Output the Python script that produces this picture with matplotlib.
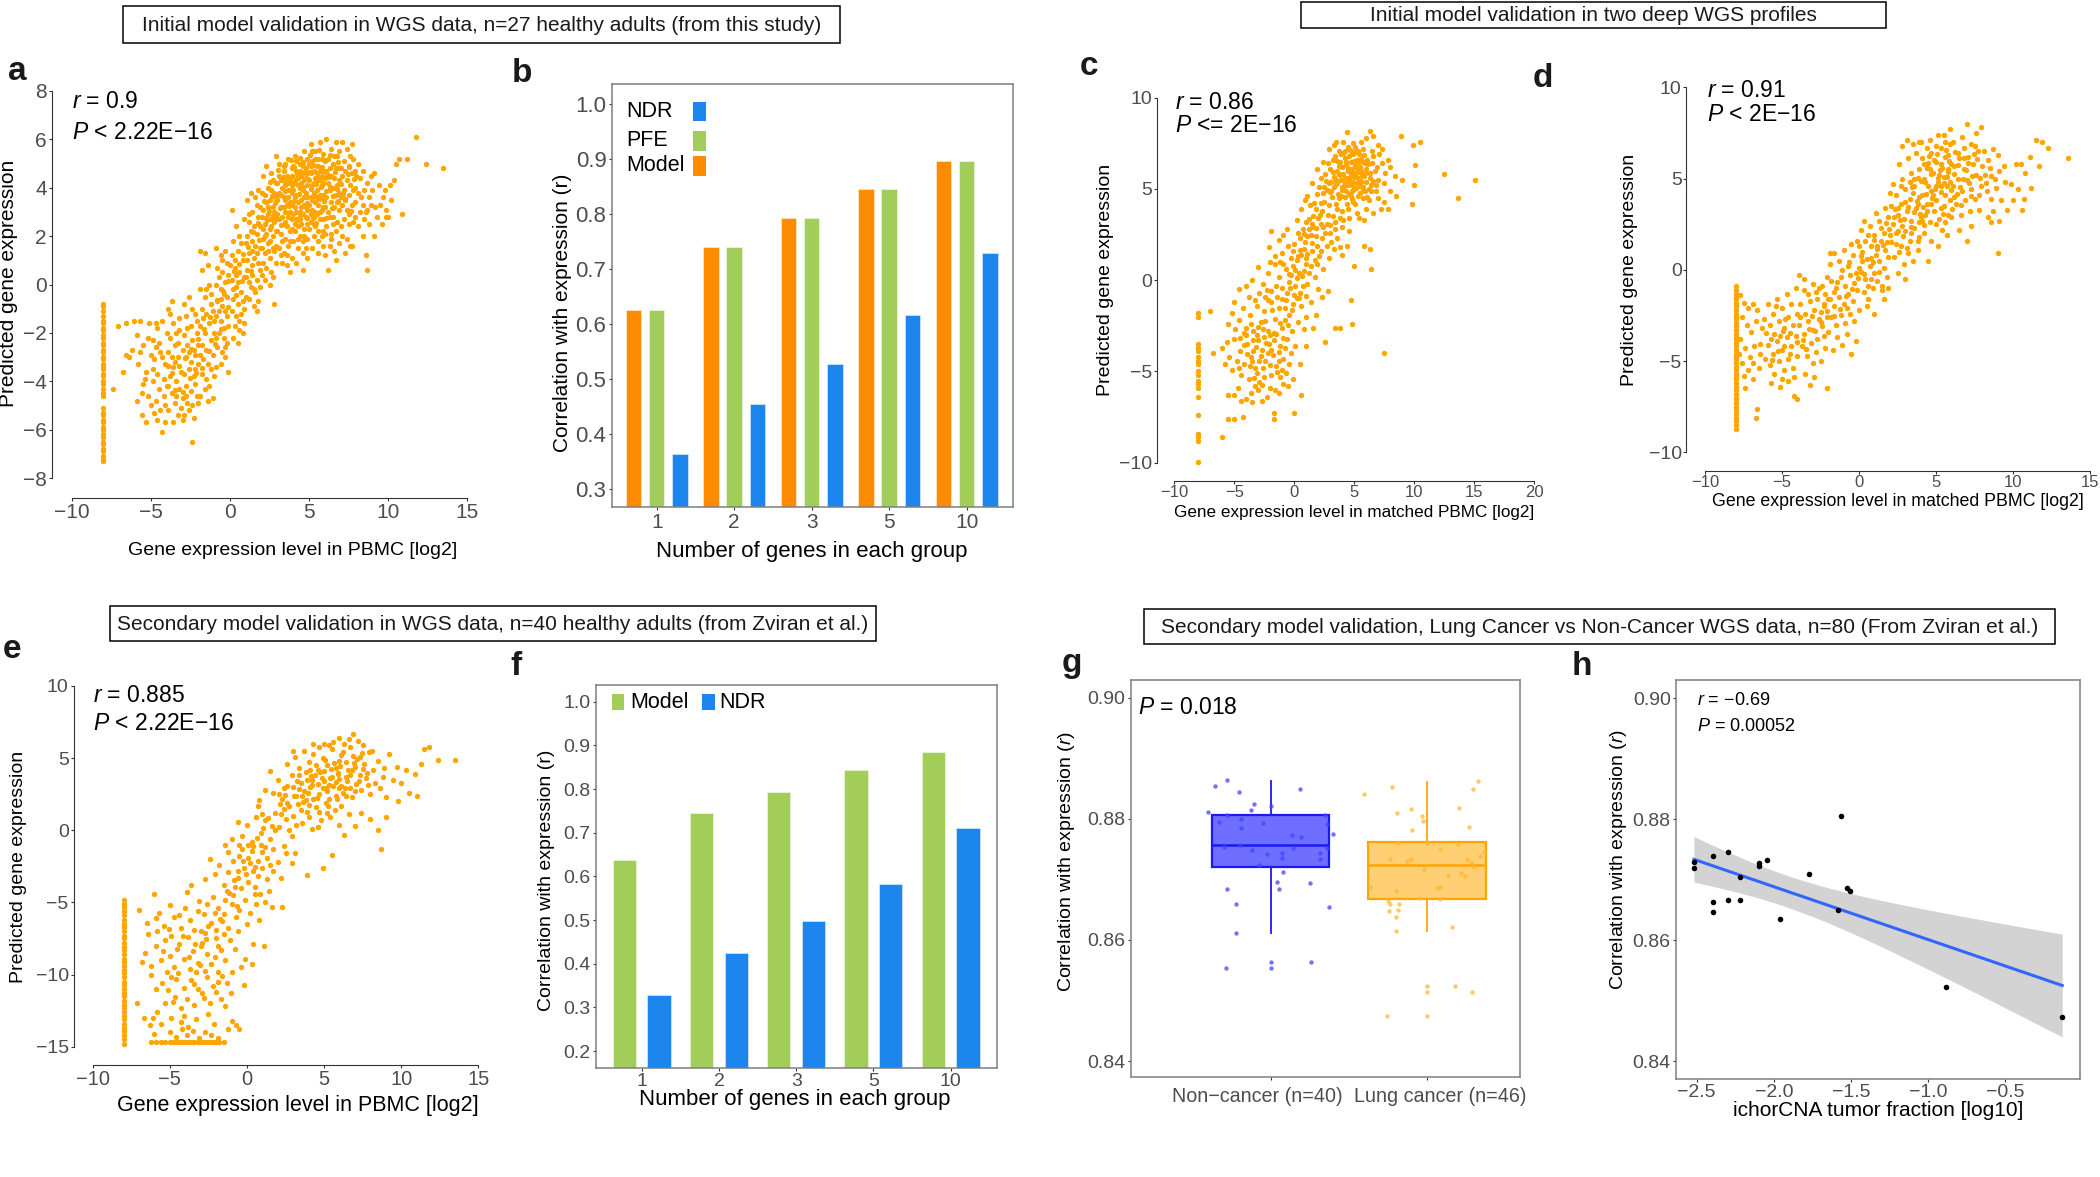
import numpy as np
import matplotlib
matplotlib.use('Agg')
import matplotlib.pyplot as plt
from matplotlib.patches import Rectangle

plt.rcParams['font.family'] = ['Liberation Sans', 'DejaVu Sans']
plt.rcParams['mathtext.fontset'] = 'custom'
plt.rcParams['mathtext.rm'] = 'Liberation Sans'
plt.rcParams['mathtext.it'] = 'Liberation Sans:italic'

# ---------------- data ----------------
# panel a: predicted vs PBMC expression (n=27 healthy adults)
a_strip_x = -8.04
a_strip_y = [-0.8, -0.9, -1.1, -1.3, -1.5, -1.6, -1.8, -1.9, -2.1, -2.2, -2.4, -2.5, -2.7, -2.8,
             -3.0, -3.1, -3.3, -3.4, -3.5, -3.7, -3.8, -4.0, -4.1, -4.3, -4.5, -4.6, -5.1, -5.3,
             -5.4, -5.6, -5.7, -5.9, -6.0, -6.2, -6.3, -6.5, -6.6, -6.8, -6.9, -7.1, -7.2, -7.3]
a_pts = [
    (-7.1, -1.7), (-6.6, -1.6), (-6.8, -3.6), (-6.4, -3.0), (-6.2, -2.7), (-7.4, -4.3), (-6.1, -1.5), (-6.6, -2.9),
    (-5.9, -2.1), (-5.7, -1.5), (-5.5, -2.5), (-5.8, -3.3), (-5.3, -3.6), (-5.9, -4.8), (-5.6, -5.4), (-5.3, -5.7),
    (-5.2, -4.6), (-5.5, -4.1), (-5.0, -2.9), (-5.1, -1.6), (-5.4, -3.9), (-5.7, -2.8), (-5.2, -2.2), (-5.0, -5.0),
    (-5.6, -4.5),
    (-4.9, -2.3), (-4.7, -2.6), (-4.8, -3.1), (-4.6, -3.7), (-4.5, -4.3), (-4.9, -4.0), (-4.7, -4.8), (-4.4, -5.2),
    (-4.6, -5.6), (-4.3, -6.1), (-4.2, -4.6), (-4.1, -3.3), (-4.4, -2.8), (-4.0, -2.0), (-4.3, -1.5), (-4.6, -1.8),
    (-4.8, -5.3), (-4.1, -5.0), (-4.5, -2.4), (-4.2, -3.9), (-4.9, -3.5), (-4.0, -4.2), (-4.7, -1.6), (-4.3, -3.0),
    (-4.1, -5.7),
    (-3.9, -1.0), (-3.7, -0.7), (-3.6, -1.6), (-3.8, -2.2), (-3.5, -2.5), (-3.9, -2.8), (-3.3, -3.0), (-3.6, -3.4),
    (-3.8, -3.8), (-3.4, -4.0), (-3.2, -4.3), (-3.7, -4.5), (-3.5, -4.9), (-3.9, -5.2), (-3.3, -5.4), (-3.6, -5.7),
    (-3.0, -5.6), (-3.1, -3.6), (-3.4, -2.0), (-3.0, -2.7), (-3.2, -1.4), (-3.8, -1.2), (-3.0, -4.7), (-3.5, -3.2),
    (-3.9, -4.2), (-3.3, -2.4), (-3.1, -5.1), (-3.7, -3.0), (-3.4, -4.6), (-3.2, -1.9),
    (-2.9, -0.8), (-2.6, -0.5), (-2.8, -1.3), (-2.5, -1.7), (-2.2, -1.2), (-2.9, -2.1), (-2.7, -2.5), (-2.4, -2.3),
    (-2.1, -2.0), (-2.8, -3.0), (-2.5, -3.2), (-2.2, -2.9), (-2.9, -3.7), (-2.6, -3.5), (-2.3, -3.8), (-2.0, -3.3),
    (-2.8, -4.2), (-2.5, -4.4), (-2.2, -4.1), (-2.7, -4.9), (-2.4, -5.0), (-2.1, -4.6), (-2.9, -5.4), (-2.6, -5.2),
    (-2.3, -5.5), (-2.4, -6.5), (-2.0, -4.9), (-2.7, -1.8), (-2.1, -1.5), (-2.3, -2.7), (-2.6, -2.8), (-2.0, -2.5),
    (-2.4, -1.0), (-2.8, -4.6), (-2.2, -3.5),
    (-1.9, 1.4), (-1.6, 1.3), (-1.8, 0.6), (-1.4, 0.8), (-1.9, -0.2), (-1.6, -0.5), (-1.3, 0.0), (-1.8, -1.0),
    (-1.5, -1.2), (-1.2, -0.8), (-1.9, -1.7), (-1.6, -2.0), (-1.3, -1.6), (-1.1, -1.1), (-1.8, -2.5), (-1.5, -2.7),
    (-1.2, -2.3), (-1.0, -2.0), (-1.7, -3.1), (-1.4, -3.3), (-1.1, -2.9), (-1.8, -3.7), (-1.5, -3.9), (-1.2, -3.5),
    (-1.6, -4.3), (-1.3, -4.2), (-1.0, -3.8), (-1.9, -4.6), (-1.4, -4.8), (-1.1, -4.7), (-1.7, -1.4), (-1.2, -0.4),
    (-1.0, -1.5), (-1.5, -0.2), (-1.9, -2.9),
    (-0.9, 1.5), (-0.6, 1.2), (-0.3, 1.4), (-0.8, 0.7), (-0.5, 0.5), (-0.2, 0.9), (-0.9, 0.0), (-0.6, -0.2),
    (-0.3, 0.1), (-0.8, -0.7), (-0.5, -0.9), (-0.2, -0.5), (-0.9, -1.3), (-0.6, -1.5), (-0.3, -1.1), (-0.7, -2.0),
    (-0.4, -2.2), (-0.1, -1.7), (-0.8, -2.6), (-0.5, -2.8), (-0.2, -2.4), (-0.6, -3.3), (-0.3, -3.0), (-0.9, -3.4),
    (-0.1, -3.6), (-0.4, -1.8), (-0.7, 0.3), (-0.1, 0.4), (-0.4, -0.4), (-0.7, -1.1), (-0.2, -1.3), (-0.5, 1.0),
    (-0.9, -2.2), (-0.3, -2.6), (-0.6, -0.6),
    (0.1, 3.1), (0.4, 2.4), (0.2, 1.8), (0.6, 2.0), (0.9, 2.7), (0.1, 1.2), (0.5, 1.4), (0.8, 1.0), (0.3, 0.7),
    (0.6, 0.5), (0.9, 0.3), (0.1, 0.2), (0.4, -0.1), (0.7, -0.3), (0.2, -0.6), (0.5, -0.8), (0.8, -0.7), (0.1, -1.1),
    (0.4, -1.3), (0.7, -1.2), (0.3, -1.7), (0.6, -1.9), (0.9, -1.6), (0.2, -2.2), (0.5, -2.4), (0.8, -2.0),
    (1.0, -0.5), (0.3, 1.0), (0.7, 1.7), (0.0, 0.8), (0.5, 0.1), (0.9, -1.0), (0.2, -0.2), (0.6, -1.5), (0.4, 0.4),
    (1.1, 3.5), (1.4, 3.0), (1.7, 3.3), (1.2, 2.6), (1.5, 2.4), (1.8, 2.8), (1.1, 2.0), (1.4, 1.8), (1.7, 2.1),
    (1.9, 1.5), (1.2, 1.3), (1.5, 1.1), (1.8, 0.9), (1.1, 0.6), (1.4, 0.4), (1.7, 0.2), (1.3, -0.1), (1.6, -0.3),
    (1.9, -0.1), (1.2, -0.6), (1.5, -0.9), (1.8, -0.7), (1.0, 1.7), (1.3, 2.2), (1.6, 1.6), (1.9, 2.4), (1.1, 1.0),
    (1.4, 0.8), (1.7, 1.3), (1.2, 0.1), (1.9, 0.6), (1.6, 3.6), (1.3, 3.8), (1.8, 3.9), (1.5, -0.2), (1.0, 0.3),
    (1.7, -1.1), (1.4, 1.4), (1.9, 3.2), (1.2, 2.9),
    (2.1, 4.5), (2.4, 4.0), (2.7, 4.3), (2.9, 5.3), (2.2, 3.7), (2.5, 3.5), (2.8, 3.8), (2.1, 3.1), (2.4, 2.9),
    (2.7, 3.2), (2.9, 2.7), (2.2, 2.5), (2.5, 2.3), (2.8, 2.6), (2.1, 1.9), (2.4, 1.7), (2.7, 2.0), (2.9, 1.6),
    (2.2, 1.3), (2.5, 1.1), (2.8, 1.4), (2.3, 0.7), (2.6, 0.5), (2.9, 0.9), (2.2, 0.2), (2.5, 0.0), (2.8, -0.8),
    (2.0, 2.8), (2.3, 3.4), (2.6, 3.9), (2.9, 4.2), (2.0, 1.5), (2.3, 2.1), (2.6, 2.7), (2.9, 3.5), (2.1, 0.9),
    (2.4, 1.4), (2.7, 1.5), (2.0, 3.8), (2.6, 4.6), (2.4, 3.2), (2.8, 3.0), (2.2, 2.0), (2.5, 1.8), (2.7, 0.3),
    (2.0, 0.4), (2.9, 2.2), (2.3, 4.9), (2.6, 2.4), (2.1, 2.3),
    (3.1, 5.0), (3.4, 4.7), (3.7, 5.2), (3.9, 4.5), (3.2, 4.3), (3.5, 4.1), (3.8, 4.4), (3.1, 3.8), (3.4, 3.6),
    (3.7, 3.9), (3.9, 3.3), (3.2, 3.2), (3.5, 3.0), (3.8, 3.4), (3.1, 2.7), (3.4, 2.5), (3.7, 2.8), (3.9, 2.3),
    (3.2, 2.1), (3.5, 1.9), (3.8, 2.2), (3.1, 1.5), (3.4, 1.3), (3.7, 1.6), (3.9, 1.1), (3.3, 0.9), (3.6, 0.8),
    (3.8, 0.5), (3.0, 3.5), (3.3, 4.0), (3.6, 4.5), (3.9, 4.8), (3.0, 2.9), (3.3, 2.8), (3.6, 3.3), (3.9, 3.8),
    (3.0, 2.2), (3.3, 1.8), (3.6, 2.4), (3.9, 2.7), (3.2, 3.7), (3.5, 3.5), (3.8, 3.0), (3.1, 4.5), (3.4, 4.9),
    (3.7, 4.2), (3.5, 2.6), (3.2, 1.2), (3.8, 1.8), (3.6, 1.2), (3.0, 4.2), (3.5, 5.0), (3.9, 4.1), (3.4, 3.2),
    (3.7, 3.6),
    (4.1, 5.3), (4.4, 5.0), (4.7, 5.5), (4.9, 5.2), (4.2, 4.7), (4.5, 4.5), (4.8, 4.8), (4.1, 4.2), (4.4, 4.0),
    (4.7, 4.3), (4.9, 4.6), (4.2, 3.7), (4.5, 3.5), (4.8, 3.8), (4.1, 3.2), (4.4, 3.0), (4.7, 3.3), (4.9, 3.6),
    (4.2, 2.7), (4.5, 2.5), (4.8, 2.8), (4.1, 2.2), (4.4, 2.0), (4.7, 2.3), (4.9, 1.9), (4.3, 1.5), (4.6, 1.3),
    (4.9, 1.1), (4.2, 0.9), (4.6, 0.6), (4.0, 4.9), (4.3, 4.4), (4.6, 4.9), (4.9, 4.1), (4.0, 3.9), (4.3, 3.4),
    (4.6, 3.9), (4.9, 3.1), (4.0, 2.9), (4.3, 2.4), (4.6, 2.9), (4.9, 2.5), (4.0, 1.8), (4.3, 1.9), (4.6, 1.8),
    (4.8, 1.5), (4.1, 3.6), (4.4, 4.7), (4.7, 3.6), (4.5, 4.2), (4.2, 3.0), (4.8, 4.4), (4.4, 2.7), (4.7, 2.0),
    (4.1, 2.5), (4.5, 3.2), (4.8, 3.2), (4.3, 4.1), (4.6, 4.6), (4.2, 5.1),
    (5.1, 5.8), (5.4, 5.5), (5.7, 5.9), (5.9, 5.4), (5.2, 5.1), (5.5, 4.9), (5.8, 5.2), (5.1, 4.6), (5.4, 4.4),
    (5.7, 4.7), (5.9, 4.2), (5.2, 4.1), (5.5, 3.9), (5.8, 4.1), (5.1, 3.6), (5.4, 3.4), (5.7, 3.7), (5.9, 3.2),
    (5.2, 3.1), (5.5, 2.9), (5.8, 3.1), (5.1, 2.6), (5.4, 2.4), (5.7, 2.7), (5.9, 2.2), (5.3, 2.0), (5.6, 1.8),
    (5.9, 1.6), (5.2, 1.5), (5.6, 1.3), (5.0, 5.0), (5.3, 4.7), (5.6, 5.2), (5.9, 4.7), (5.0, 4.3), (5.3, 3.8),
    (5.6, 4.3), (5.9, 3.7), (5.0, 3.3), (5.3, 2.8), (5.6, 3.3), (5.9, 2.7), (5.0, 2.3), (5.3, 2.5), (5.6, 2.2),
    (5.8, 2.0), (5.1, 4.9), (5.4, 5.2), (5.7, 4.3), (5.5, 4.6), (5.2, 3.5), (5.8, 4.5), (5.4, 3.0), (5.7, 3.0),
    (5.1, 2.9), (5.5, 3.6), (5.8, 3.6), (5.3, 4.2), (5.6, 4.9), (5.2, 5.5),
    (6.1, 6.0), (6.4, 5.6), (6.7, 5.9), (6.9, 5.5), (6.2, 5.2), (6.5, 5.0), (6.8, 5.3), (6.1, 4.7), (6.4, 4.5),
    (6.7, 4.8), (6.9, 4.3), (6.2, 4.2), (6.5, 4.0), (6.8, 4.1), (6.1, 3.6), (6.4, 3.4), (6.7, 3.7), (6.9, 3.1),
    (6.2, 3.0), (6.5, 2.8), (6.8, 2.6), (6.1, 2.4), (6.4, 2.1), (6.7, 2.2), (6.9, 1.7), (6.3, 1.6), (6.6, 1.4),
    (6.0, 1.2), (6.2, 0.6), (6.0, 5.1), (6.3, 4.8), (6.6, 5.3), (6.9, 4.8), (6.0, 4.4), (6.3, 3.9), (6.6, 4.4),
    (6.9, 3.8), (6.0, 3.2), (6.3, 2.8), (6.6, 3.2), (6.0, 2.1), (6.5, 2.5), (6.8, 3.4), (6.4, 1.9), (6.7, 1.0),
    (7.1, 5.9), (7.4, 5.6), (7.7, 5.8), (7.2, 5.1), (7.5, 4.9), (7.8, 5.2), (7.1, 4.5), (7.4, 4.3), (7.7, 4.6),
    (7.9, 4.0), (7.2, 3.9), (7.5, 3.7), (7.8, 3.9), (7.1, 3.3), (7.4, 3.1), (7.7, 3.3), (7.9, 2.8), (7.2, 2.7),
    (7.5, 2.5), (7.8, 2.6), (7.1, 2.0), (7.4, 1.9), (7.7, 1.6), (7.3, 1.3), (7.6, 1.6), (7.0, 4.8), (7.3, 4.7),
    (7.6, 5.3), (7.9, 4.7), (7.0, 3.6), (7.3, 3.5), (7.6, 4.1), (7.9, 3.4), (7.0, 2.4), (7.5, 2.9),
    (8.1, 5.0), (8.4, 4.7), (8.7, 4.2), (8.2, 4.4), (8.5, 3.9), (8.8, 3.6), (8.1, 3.8), (8.4, 3.3), (8.7, 3.1),
    (8.2, 3.0), (8.5, 2.7), (8.8, 2.5), (8.1, 2.4), (8.4, 2.0), (8.6, 1.2), (8.7, 0.6), (8.3, 3.6), (8.9, 4.5),
    (8.0, 4.5), (8.6, 3.0), (8.9, 3.3),
    (9.1, 4.6), (9.4, 4.1), (9.7, 3.6), (9.2, 3.2), (9.5, 3.3), (9.9, 3.1), (9.3, 2.8), (9.1, 2.0), (9.8, 3.9),
    (9.6, 2.5), (9.9, 2.8), (9.0, 3.9),
    (10.2, 3.5), (10.5, 5.0), (10.7, 5.2), (11.2, 5.2), (10.0, 2.8), (10.9, 2.9), (10.4, 4.3), (11.8, 6.1),
    (12.4, 5.0), (13.5, 4.8), (10.1, 4.1),
]
a_pts_dense = [
    (2.15, 3.45), (2.35, 2.65), (2.55, 4.25), (2.75, 2.85), (2.95, 3.65), (3.05, 4.75), (3.25, 2.45), (3.45, 3.85),
    (3.65, 2.95), (3.85, 4.25), (4.05, 3.45), (4.25, 4.55), (4.45, 2.85), (4.65, 4.05), (4.85, 3.35), (5.05, 4.65),
    (5.25, 2.75), (5.45, 4.15), (5.65, 3.55), (5.85, 4.85), (6.05, 3.85), (6.25, 4.45), (6.45, 3.15), (6.65, 4.65),
    (6.85, 3.45), (7.05, 4.15), (7.25, 3.55), (7.45, 4.55), (7.65, 3.05), (7.85, 4.35), (2.45, 3.05), (2.85, 3.35),
    (3.15, 3.15), (3.55, 4.35), (3.95, 3.95), (4.35, 3.75), (4.75, 4.65), (5.15, 3.95), (5.55, 4.45), (5.95, 3.45),
    (6.35, 4.05), (6.75, 3.95), (7.15, 3.75), (7.55, 4.85), (4.15, 4.35), (4.55, 3.95), (4.95, 4.35), (5.35, 3.65),
    (5.75, 4.05), (6.15, 4.55), (3.35, 4.45), (3.75, 3.25), (4.25, 2.65), (4.85, 2.75), (5.45, 2.55), (6.05, 2.75),
    (6.55, 3.65), (5.05, 5.35), (5.65, 5.55), (4.45, 5.25), (3.85, 5.15), (6.35, 5.35), (6.85, 5.05), (5.25, 4.95),
    (4.65, 5.05), (5.95, 5.15), (3.45, 4.25), (4.05, 4.85), (2.65, 3.65), (1.75, 2.55), (1.45, 2.15), (1.15, 1.55),
    (0.85, 1.25), (0.55, 0.85), (0.25, 0.55), (-0.15, 0.15), (-0.45, -0.25), (-0.85, -0.65), (-1.25, -1.35),
    (-1.65, -1.85), (-2.05, -2.25), (-2.45, -2.65), (-2.85, -3.05), (-3.25, -3.35), (-3.65, -3.65), (-3.95, -3.35),
    (-3.45, -4.35), (-2.95, -4.45), (-2.55, -3.85), (-2.15, -3.65), (-1.75, -3.45), (-1.35, -2.75), (-0.95, -2.45),
    (-0.55, -1.85), (-0.15, -0.95), (0.35, -0.45), (0.75, 0.15), (1.35, 0.55), (1.85, 1.85), (2.25, 2.75),
]

# panel b: correlation by number of genes per group
b_groups = ['1', '2', '3', '5', '10']
b_model = [0.626, 0.740, 0.794, 0.845, 0.897]
b_pfe = [0.626, 0.740, 0.794, 0.845, 0.897]
b_ndr = [0.364, 0.454, 0.528, 0.617, 0.730]

# panel c: deep WGS profile 1
c_strip_x = -8.0
c_strip_y = [-1.8, -2.0, -3.5, -3.7, -3.9, -4.2, -4.4, -4.6, -5.0, -5.2, -5.5, -5.7, -5.9, -6.4, -7.4,
             -8.4, -8.6, -8.8, -9.95]
c_pts = [
    (-7.0, -1.7), (-6.8, -4.0), (-6.0, -8.6), (-5.5, -7.6), (-5.0, -7.6), (-4.3, -7.5), (-1.7, -7.3), (-1.7, -7.6),
    (0.0, -7.3), (0.6, -6.3), (2.6, -3.4), (3.4, -2.6), (3.8, -2.6), (4.8, -2.4), (4.7, -1.1), (7.5, -4.0),
    (6.4, 0.6), (6.3, 1.7), (5.0, 0.8), (5.8, 1.9), (12.5, 5.8), (13.7, 4.5), (15.1, 5.5), (9.8, 4.2),
    (10.1, 6.3), (10.5, 7.6), (9.9, 7.4), (8.9, 7.9), (9.0, 5.5), (10.0, 5.2),
    (-5.5, -6.3), (-5.0, -6.3), (-4.7, -5.9), (-4.4, -6.6), (-4.0, -6.5), (-3.6, -6.2), (-3.3, -5.8), (-3.0, -6.0),
    (-2.7, -6.6), (-2.3, -6.4), (-2.0, -5.9), (-1.6, -6.0), (-1.3, -6.2), (-0.9, -5.7), (-0.5, -5.8), (-0.1, -5.4),
    (-4.4, -5.2), (-3.8, -5.4), (-3.1, -5.1), (-2.5, -5.3), (-1.9, -5.2), (-1.2, -5.3), (-0.7, -5.1), (-2.9, -5.6),
    (-3.5, -6.7),
    (-6.0, -3.7), (-5.6, -3.4), (-5.8, -4.6), (-5.2, -4.9), (-4.8, -4.4), (-4.5, -3.9), (-4.2, -4.6), (-3.9, -3.5),
    (-3.6, -4.2), (-3.3, -4.8), (-3.0, -3.3), (-2.7, -3.8), (-2.4, -4.4), (-2.1, -3.5), (-1.8, -4.1), (-1.5, -4.7),
    (-1.2, -3.6), (-0.9, -4.3), (-0.6, -3.2), (-0.3, -4.0), (0.1, -3.6), (0.5, -4.6), (1.0, -3.6), (-5.0, -3.2),
    (-4.0, -3.0), (-3.4, -3.9), (-2.9, -4.4), (-2.5, -3.1), (-2.2, -4.0), (-1.7, -3.3), (-1.3, -4.4), (-0.8, -3.7),
    (-0.4, -4.6), (-3.7, -4.7), (-4.6, -4.8), (-2.6, -4.8), (-1.0, -4.9), (-2.0, -3.0), (-3.1, -3.0), (-5.4, -4.2),
    (-5.5, -2.4), (-5.2, -1.8), (-4.9, -2.7), (-4.6, -2.2), (-4.3, -1.5), (-4.0, -2.6), (-3.7, -1.9), (-3.4, -2.8),
    (-3.1, -1.4), (-2.8, -2.3), (-2.5, -1.7), (-2.2, -2.8), (-1.9, -1.2), (-1.6, -2.1), (-1.3, -1.5), (-1.0, -2.6),
    (-0.7, -1.1), (-0.4, -1.9), (-0.1, -1.3), (0.3, -2.3), (0.6, -1.4), (1.0, -2.0), (1.4, -1.2), (1.8, -1.9),
    (-4.6, -0.5), (-3.8, -0.9), (-2.9, -0.7), (-3.6, -2.4), (-2.6, -2.7), (-1.7, -2.9), (-0.8, -2.2), (-0.2, -2.8),
    (0.4, -1.0), (-1.4, -0.9), (-2.2, -1.1), (-3.3, -1.1), (0.8, -2.7), (1.6, -2.6), (-4.2, -2.9), (-5.0, -1.2),
    (-4.0, -0.3), (-3.5, 0.0), (-3.0, 0.7), (-2.6, -0.2), (-2.2, 0.4), (-1.9, -0.6), (-1.6, 0.9), (-1.3, 0.2),
    (-1.0, -0.4), (-0.7, 0.6), (-0.4, -0.1), (-0.1, 0.8), (0.2, 0.1), (0.5, -0.7), (0.8, 0.5), (1.1, -0.2),
    (1.4, 0.8), (1.7, 0.2), (2.0, -0.5), (2.4, 0.6), (2.8, -0.6), (-2.0, 1.0), (-0.9, 0.9), (0.0, -0.8), (0.4, 0.4),
    (1.2, 0.4), (-1.5, -0.3), (-0.3, 0.3), (0.7, -0.3), (1.9, 0.9), (-2.4, -0.9), (2.3, -0.9), (0.1, -0.3),
    (-0.6, -0.7), (1.0, 0.9),
    (-2.1, 1.8), (-1.6, 1.3), (-1.3, 2.2), (-1.0, 1.5), (-0.6, 2.8), (-0.3, 1.2), (0.0, 2.0), (0.3, 2.6), (0.6, 1.4),
    (0.9, 2.1), (1.2, 2.8), (1.5, 1.6), (1.8, 2.4), (2.1, 1.3), (2.4, 2.9), (2.7, 1.9), (3.0, 2.6), (3.3, 1.7),
    (3.6, 2.3), (4.0, 1.4), (4.4, 1.9), (-0.9, 2.5), (-0.1, 1.6), (0.5, 2.3), (1.0, 1.2), (1.4, 2.5), (1.9, 1.9),
    (2.3, 2.3), (2.9, 1.2), (3.4, 2.8), (4.0, 2.9), (0.7, 2.8), (0.2, 1.1), (1.7, 1.1), (2.6, 2.6), (3.1, 2.1),
    (-1.9, 2.7), (-0.5, 1.9), (0.8, 1.7), (1.6, 2.9), (2.2, 1.6), (3.8, 1.8), (4.6, 2.7), (-1.2, 1.0), (1.1, 2.4),
    (0.2, 3.3), (0.6, 3.9), (1.0, 3.2), (1.3, 4.1), (1.6, 3.5), (1.9, 4.7), (2.2, 3.1), (2.5, 4.3), (2.8, 3.6),
    (3.1, 4.9), (3.4, 3.2), (3.7, 4.5), (4.0, 3.8), (4.3, 4.9), (4.6, 3.4), (4.9, 4.3), (5.2, 3.7), (5.5, 4.8),
    (5.8, 3.3), (6.2, 4.4), (6.6, 3.7), (7.0, 4.5), (7.5, 4.3), (8.0, 4.9), (8.5, 4.6), (1.1, 4.6), (1.8, 3.9),
    (2.4, 4.8), (2.0, 3.4), (2.9, 4.1), (3.2, 3.5), (3.5, 4.2), (3.9, 4.6), (4.1, 3.3), (4.4, 4.2), (4.8, 4.9),
    (5.1, 4.2), (5.4, 3.4), (5.7, 4.5), (6.0, 3.9), (6.4, 4.9), (7.2, 3.9), (2.7, 3.1), (3.6, 3.9), (4.5, 3.9),
    (5.3, 4.6), (6.8, 4.9), (0.9, 4.4), (1.5, 3.1), (2.3, 3.8), (3.0, 3.0), (3.8, 3.4), (4.7, 4.6), (5.9, 4.9),
    (7.8, 3.9),
    (1.5, 5.3), (1.9, 6.1), (2.2, 5.6), (2.5, 5.1), (2.8, 6.4), (3.1, 5.4), (3.4, 6.8), (3.7, 5.8), (4.0, 5.1),
    (4.3, 6.3), (4.6, 5.6), (4.9, 6.9), (5.2, 5.3), (5.5, 6.2), (5.8, 5.7), (6.1, 6.6), (6.4, 5.2), (6.7, 6.0),
    (7.0, 5.5), (7.3, 6.4), (7.6, 5.9), (8.0, 6.2), (8.4, 5.7), (3.3, 5.1), (3.6, 6.0), (3.9, 5.5), (4.2, 6.7),
    (4.5, 5.2), (4.8, 6.1), (5.1, 5.7), (5.4, 6.9), (5.7, 5.1), (6.0, 6.1), (6.3, 5.6), (6.6, 6.8), (2.6, 5.8),
    (3.0, 6.1), (4.1, 5.8), (4.4, 5.4), (4.7, 6.5), (5.0, 5.0), (5.3, 6.4), (5.6, 5.4), (5.9, 6.4), (6.2, 5.0),
    (2.1, 5.1), (3.5, 5.5), (4.0, 6.2), (4.5, 6.0), (5.0, 5.9), (5.5, 5.5), (6.8, 5.2), (7.8, 6.6), (2.9, 5.3),
    (3.8, 6.5), (4.6, 6.8), (5.2, 6.6), (5.7, 6.5), (6.5, 6.4), (7.1, 6.9), (3.2, 6.6), (4.3, 5.6), (4.9, 5.4),
    (5.1, 6.3), (5.6, 6.0), (6.0, 5.4), (3.6, 5.3), (4.2, 5.3), (4.7, 5.7), (4.8, 5.2), (5.3, 5.6), (3.9, 6.9),
    (2.4, 6.5), (6.9, 6.2), (7.5, 5.3),
    (2.9, 7.2), (3.3, 7.4), (3.7, 7.1), (4.1, 7.6), (4.5, 7.3), (4.9, 7.5), (5.3, 7.1), (5.7, 7.2), (6.0, 7.8),
    (6.3, 8.2), (6.6, 7.9), (7.0, 7.4), (4.4, 8.1), (3.5, 7.6), (4.8, 7.0), (5.6, 7.6), (5.1, 7.3), (4.2, 7.1),
    (6.5, 7.1), (7.3, 7.2),
]
c_pts_dense = [
    (2.65, 5.45), (2.95, 4.85), (3.25, 5.95), (3.45, 5.25), (3.75, 6.25), (3.95, 4.95), (4.15, 5.55), (4.35, 6.45),
    (4.55, 4.75), (4.75, 5.85), (4.95, 6.55), (5.15, 5.05), (5.35, 5.95), (5.55, 6.65), (5.75, 4.95), (5.95, 5.85),
    (6.15, 6.35), (4.05, 6.95), (4.65, 7.15), (5.05, 7.05), (3.55, 6.55), (4.25, 4.55), (4.85, 4.45), (5.45, 5.15),
    (3.15, 4.55), (3.85, 5.75), (4.45, 6.15), (5.25, 6.15), (5.85, 6.85), (6.35, 5.85), (2.25, 4.25), (2.75, 4.95),
    (3.35, 5.65), (3.65, 4.75), (4.15, 5.15), (4.55, 5.45), (4.95, 5.65), (5.65, 5.75), (6.05, 4.55), (6.55, 5.45),
    (1.25, 3.35), (1.65, 4.25), (0.85, 2.55), (0.45, 1.65), (0.05, 0.55), (-0.35, -0.45), (-0.75, -1.55),
    (-1.15, -2.35), (-1.55, -2.95), (-1.95, -3.85), (-2.35, -3.45), (-2.75, -4.15), (-3.15, -3.65), (-3.55, -4.45),
    (-3.95, -4.05), (-2.05, -4.65), (-1.45, -5.05), (-2.65, -5.75), (-3.35, -5.35), (-0.95, -3.15), (-0.55, -2.45),
    (-0.15, -1.65), (0.25, -0.95), (0.65, 0.25), (1.05, 1.45), (1.45, 2.05), (1.85, 2.85), (2.15, 3.55),
    (-1.85, -1.65), (-2.45, -2.25), (-3.05, -2.55), (-3.45, -3.25), (-4.15, -3.55), (-4.55, -3.15), (-1.05, -1.05),
    (-0.45, 0.35), (0.35, 1.35), (0.95, -0.85), (-2.25, -0.55), (-1.25, -3.95),
]

# panel d: deep WGS profile 2
d_strip_x = -8.0
d_strip_y = [-0.9, -1.1, -1.3, -1.5, -1.6, -1.8, -2.0, -2.2, -2.4, -2.6, -2.7, -2.9, -3.1, -3.3, -3.5,
             -3.7, -3.8, -4.0, -4.2, -4.4, -4.6, -4.8, -4.9, -5.1, -5.3, -5.5, -5.7, -5.9, -6.0, -6.2,
             -6.4, -6.6, -6.8, -7.0, -7.1, -7.3, -7.5, -7.7, -7.9, -8.1, -8.3, -8.5, -8.7]
d_pts = [
    (-7.7, -1.4), (-7.5, -1.8), (-7.2, -2.1), (-6.9, -1.9), (-6.6, -2.2), (-7.6, -2.6), (-7.3, -3.0), (-7.0, -3.4),
    (-6.7, -2.8), (-6.3, -3.2), (-7.7, -3.8), (-7.4, -4.3), (-7.1, -4.8), (-6.8, -4.2), (-6.4, -4.6), (-7.6, -5.1),
    (-7.2, -5.5), (-6.9, -5.1), (-6.5, -5.4), (-7.5, -5.8), (-6.9, -6.0), (-7.4, -6.5), (-6.6, -7.6), (-6.7, -8.1),
    (-6.2, -2.7), (-6.1, -4.9), (-7.8, -4.6),
    (-5.9, -1.9), (-5.6, -2.4), (-5.3, -1.6), (-5.0, -2.1), (-4.7, -1.3), (-4.4, -1.9), (-4.1, -1.0), (-5.8, -3.0),
    (-5.5, -3.5), (-5.2, -2.8), (-4.9, -3.2), (-4.6, -2.6), (-4.3, -3.0), (-4.0, -2.4), (-5.9, -4.1), (-5.6, -4.6),
    (-5.3, -3.9), (-5.0, -4.4), (-4.7, -3.7), (-4.4, -4.2), (-4.1, -3.6), (-5.8, -5.2), (-5.5, -5.7), (-5.2, -5.0),
    (-4.9, -5.5), (-4.6, -4.9), (-4.3, -5.4), (-4.0, -4.7), (-5.7, -6.2), (-5.1, -6.4), (-4.6, -6.1), (-4.2, -6.9),
    (-4.0, -7.1), (-5.4, -2.0), (-4.8, -2.7), (-5.1, -3.6), (-4.5, -4.6), (-5.7, -3.8), (-4.2, -5.9), (-5.0, -6.0),
    (-3.9, -0.3), (-3.6, -0.5), (-3.3, -1.3), (-3.0, -0.8), (-2.7, -1.6), (-2.4, -0.9), (-2.1, -0.4), (-3.8, -1.9),
    (-3.5, -2.4), (-3.2, -1.7), (-2.9, -2.2), (-2.6, -2.7), (-2.3, -2.0), (-2.0, -1.6), (-3.9, -3.0), (-3.6, -3.5),
    (-3.3, -2.8), (-3.0, -3.3), (-2.7, -3.8), (-2.4, -3.1), (-2.1, -2.6), (-3.7, -4.2), (-3.4, -4.7), (-3.1, -4.0),
    (-2.8, -4.5), (-2.5, -5.0), (-2.2, -4.3), (-3.5, -5.7), (-2.9, -5.9), (-2.1, -6.5), (-3.2, -6.3), (-2.6, -1.0),
    (-2.3, -3.6), (-3.8, -2.6), (-2.0, -3.4), (-3.0, -5.1), (-2.5, -2.3), (-2.8, -1.2), (-3.6, -1.1), (-2.2, -1.3),
    (-1.9, 0.3), (-1.6, 0.9), (-1.3, 0.5), (-1.0, 1.1), (-0.7, 0.2), (-0.4, 0.8), (-0.1, 1.6), (-1.8, -0.6),
    (-1.5, -1.0), (-1.2, -0.4), (-0.9, -0.9), (-0.6, -0.3), (-0.3, -0.7), (0.0, 0.1), (-1.9, -1.6), (-1.6, -2.0),
    (-1.3, -1.5), (-1.0, -1.9), (-0.7, -1.3), (-0.4, -1.7), (-0.1, -1.1), (-1.8, -2.6), (-1.5, -3.0), (-1.2, -2.5),
    (-0.9, -2.9), (-0.6, -2.4), (-0.3, -2.8), (-1.4, -3.7), (-0.8, -3.5), (-0.2, -3.9), (-1.7, -4.4), (-1.1, -4.1),
    (-0.5, -4.6), (-1.9, 0.9), (-0.5, 1.4), (-1.1, 0.0), (-0.2, -0.2), (-0.8, -2.1), (-1.6, -1.2), (0.0, -2.2),
    (0.1, 2.2), (0.4, 1.6), (0.7, 2.4), (1.0, 1.9), (1.3, 2.7), (1.6, 2.0), (1.9, 2.9), (0.2, 1.0), (0.5, 0.6),
    (0.8, 1.3), (1.1, 0.8), (1.4, 1.6), (1.7, 1.1), (2.0, 1.9), (0.1, -0.1), (0.4, -0.5), (0.7, 0.2), (1.0, -0.2),
    (1.3, 0.5), (1.6, 0.1), (1.9, 0.7), (0.3, -1.2), (0.6, -1.6), (0.9, -1.0), (1.2, -0.6), (1.5, -1.1), (1.8, -0.4),
    (0.5, -2.0), (1.0, -2.4), (1.5, -0.9), (0.2, 0.5), (0.9, 0.4), (1.4, 2.3), (1.8, 1.5), (0.6, 1.9), (1.1, 3.1),
    (0.3, 2.7), (1.7, 3.4), (0.8, -0.5), (1.3, -0.1), (1.9, -1.0), (0.0, 1.3), (0.6, -0.9), (1.2, 1.3), (1.6, -1.6),
    (2.1, 3.5), (2.4, 4.1), (2.7, 3.6), (3.0, 4.4), (3.3, 3.9), (3.6, 4.6), (3.9, 4.0), (2.2, 2.5), (2.5, 3.0),
    (2.8, 2.4), (3.1, 3.2), (3.4, 2.7), (3.7, 3.4), (4.0, 2.9), (2.1, 1.5), (2.4, 2.0), (2.7, 1.3), (3.0, 2.1),
    (3.3, 1.6), (3.6, 2.3), (3.9, 1.8), (2.3, 0.7), (2.6, 1.0), (2.9, 0.3), (3.2, 0.9), (3.5, 0.5), (3.8, 1.1),
    (2.5, -0.2), (3.0, -0.5), (2.2, 4.7), (2.8, 5.0), (3.4, 5.3), (3.9, 5.5), (2.6, 5.8), (3.2, 6.1), (3.7, 6.4),
    (3.1, 7.1), (2.8, 6.8), (2.0, 4.2), (2.5, 3.4), (3.0, 3.7), (3.5, 4.2), (3.8, 3.6), (2.3, 2.9), (2.9, 2.8),
    (3.4, 2.0), (3.9, 2.6), (2.7, 4.6), (3.3, 4.8), (3.6, 5.0), (2.4, 1.4), (3.1, 1.2), (3.8, 1.6), (3.5, 6.9),
    (3.9, 7.0),
    (4.1, 6.1), (4.4, 5.6), (4.7, 6.4), (5.0, 5.9), (5.3, 6.7), (5.6, 6.2), (5.9, 6.9), (4.2, 5.0), (4.5, 4.6),
    (4.8, 5.3), (5.1, 4.8), (5.4, 5.6), (5.7, 5.1), (6.0, 5.8), (4.1, 4.1), (4.4, 3.6), (4.7, 4.3), (5.0, 3.8),
    (5.3, 4.6), (5.6, 4.1), (5.9, 4.8), (4.3, 3.0), (4.6, 2.6), (4.9, 3.2), (5.2, 2.8), (5.5, 3.5), (5.8, 3.0),
    (4.2, 2.0), (4.7, 1.6), (5.1, 1.3), (4.5, 0.5), (5.4, 2.2), (4.0, 7.0), (4.6, 7.1), (5.1, 7.4), (5.6, 7.0),
    (5.9, 7.7), (4.4, 6.7), (5.0, 6.8), (5.5, 7.4), (4.3, 4.8), (4.8, 4.1), (5.2, 5.2), (5.7, 4.6), (4.6, 5.5),
    (5.0, 4.6), (5.5, 5.1), (5.8, 5.5), (4.2, 5.8), (4.9, 6.0), (5.3, 5.8), (5.8, 6.3), (4.4, 3.2), (5.0, 2.5),
    (5.6, 2.6), (5.9, 3.8), (4.7, 3.6), (5.3, 3.4), (4.1, 2.7), (5.7, 1.9),
    (6.1, 7.0), (6.4, 6.4), (6.7, 7.3), (7.0, 8.0), (7.3, 6.9), (7.6, 7.5), (7.9, 7.8), (6.2, 5.7), (6.5, 6.1),
    (6.8, 5.5), (7.1, 6.2), (7.4, 5.8), (7.7, 6.5), (8.0, 5.7), (6.1, 4.6), (6.4, 5.0), (6.7, 4.3), (7.0, 4.9),
    (7.3, 4.4), (7.6, 5.2), (7.9, 4.6), (6.3, 3.6), (6.6, 3.0), (6.9, 3.8), (7.2, 3.2), (7.5, 3.9), (7.8, 3.3),
    (6.5, 2.2), (7.0, 1.6), (7.3, 2.4), (6.8, 6.7), (7.5, 6.8), (6.2, 4.0), (7.8, 4.1), (6.0, 2.9),
    (8.1, 6.5), (8.4, 6.0), (8.7, 6.6), (9.0, 6.3), (8.2, 5.2), (8.5, 5.6), (8.8, 5.0), (9.1, 5.4), (9.4, 5.7),
    (8.3, 4.3), (8.6, 3.9), (8.9, 4.5), (9.2, 3.8), (9.5, 4.8), (8.4, 2.9), (8.6, 2.6), (9.1, 2.7), (9.0, 0.9),
    (8.7, 3.2), (9.9, 4.7), (9.6, 3.3),
    (10.2, 5.8), (10.5, 5.8), (10.3, 4.4), (10.0, 3.8), (10.7, 3.9), (11.2, 4.5), (10.8, 5.3), (11.5, 7.1),
    (11.9, 7.0), (12.3, 6.7), (11.7, 5.7), (13.6, 6.1), (11.1, 6.2), (10.6, 3.3),
]
d_pts_dense = [
    (3.15, 3.45), (3.45, 4.55), (3.75, 3.75), (4.05, 4.85), (4.35, 4.15), (4.65, 5.25), (4.95, 4.45), (5.25, 5.45),
    (5.55, 4.75), (5.85, 5.95), (6.15, 5.25), (6.45, 5.75), (6.75, 4.95), (7.05, 5.85), (7.35, 5.15), (7.65, 6.05),
    (3.55, 3.15), (4.15, 3.45), (4.75, 3.95), (5.35, 4.25), (5.95, 4.35), (6.55, 4.55), (7.15, 4.75), (4.45, 5.85),
    (5.05, 6.35), (5.65, 6.55), (6.25, 6.45), (6.85, 6.15), (3.85, 5.05), (4.55, 6.25), (5.15, 5.05), (5.75, 5.35),
    (6.35, 4.15), (6.95, 5.45), (7.45, 6.35), (2.65, 2.75), (2.35, 3.35), (1.95, 2.25), (1.55, 1.35), (1.15, 1.15),
    (0.75, 0.65), (0.35, -0.25), (-0.05, -0.45), (-0.45, -1.05), (-0.85, -1.45), (-1.25, -2.15), (-1.65, -2.55),
    (-2.05, -2.25), (-2.45, -2.85), (-2.85, -3.35), (-3.25, -3.25), (-3.65, -3.85), (-4.05, -3.95), (-4.45, -3.45),
    (-4.85, -4.15), (-5.25, -4.45), (-5.65, -4.95), (-6.05, -3.45), (-6.45, -4.05), (-3.05, -2.55), (-2.25, -1.85),
    (-1.45, -0.65), (-0.65, 0.45), (0.15, 0.75), (0.95, 1.65), (1.75, 2.55), (2.55, 2.15), (3.35, 2.35), (4.25, 2.45),
    (5.45, 3.05), (6.05, 3.35), (6.65, 3.55), (7.25, 4.05), (7.85, 5.05), (8.25, 4.75), (8.55, 5.15), (3.95, 3.05),
    (2.85, 1.85), (-3.45, -4.35), (-4.95, -3.35),
]

# panel e: n=40 healthy adults (Zviran et al.)
e_strip_x = -8.0
e_strip_y = [-4.85, -5.1, -5.3, -5.6, -5.9, -6.2, -6.5, -6.7, -7.0, -7.3, -7.5, -7.8, -8.1, -8.3, -8.6,
             -8.9, -9.1, -9.4, -9.7, -9.9, -10.2, -10.5, -10.7, -11.0, -11.3, -11.5, -11.8, -12.1,
             -12.3, -12.6, -12.9, -13.1, -13.4, -13.7, -13.9, -14.2, -14.5, -14.8]
e_pts = [
    (-6.2, -14.7), (-5.9, -14.7), (-5.6, -14.7), (-5.3, -14.7), (-5.0, -14.7), (-4.8, -14.7), (-4.6, -14.7),
    (-4.4, -14.7), (-4.2, -14.7), (-4.0, -14.7), (-3.8, -14.7), (-3.6, -14.7), (-3.4, -14.7), (-3.2, -14.7),
    (-3.0, -14.7), (-2.8, -14.7), (-2.6, -14.7), (-2.4, -14.7), (-2.2, -14.7), (-2.0, -14.7), (-1.8, -14.7),
    (-1.5, -14.7),
    (-6.0, -14.1), (-5.0, -14.0), (-4.6, -14.3), (-4.2, -13.8), (-3.9, -14.2), (-3.5, -13.9), (-3.1, -14.4),
    (-2.7, -14.0), (-2.3, -14.2), (-1.9, -14.4), (-4.9, -13.0), (-4.3, -13.3), (-3.8, -13.6), (-3.3, -13.1),
    (-6.7, -13.0), (-6.3, -13.5), (-5.6, -13.4), (-1.0, -13.2), (-0.7, -13.5), (-0.5, -13.8), (-1.2, -13.8),
    (-7.1, -12.0), (-6.1, -13.0), (-5.8, -12.6), (-5.3, -12.0), (-4.8, -11.9), (-4.3, -12.3), (-3.9, -11.7),
    (-3.4, -12.1), (-2.8, -11.6), (-2.4, -12.0), (-2.0, -11.2), (-1.4, -12.2), (-1.7, -11.7), (-5.9, -11.0),
    (-5.5, -10.6), (-5.1, -11.1), (-4.6, -10.3), (-4.1, -10.9), (-3.6, -10.4), (-3.2, -11.0), (-2.6, -10.2),
    (-2.2, -10.8), (-1.9, -10.5), (-1.3, -10.6), (-0.2, -10.7), (-6.2, -10.0), (-4.9, -10.2), (-3.3, -9.8),
    (-2.9, -11.3), (-1.6, -10.1),
    (-6.6, -8.5), (-6.2, -9.4), (-5.9, -8.0), (-5.6, -9.0), (-5.3, -7.6), (-5.0, -8.7), (-4.7, -9.5), (-4.4, -7.9),
    (-4.1, -8.9), (-3.8, -7.4), (-3.5, -8.4), (-3.2, -9.2), (-2.9, -7.8), (-2.6, -8.6), (-2.3, -9.3), (-2.0, -7.5),
    (-1.7, -8.3), (-1.4, -9.0), (-1.1, -7.6), (-0.8, -8.2), (-0.4, -9.5), (-0.1, -8.9), (0.4, -7.9), (-6.4, -7.2),
    (-5.8, -7.0), (-4.9, -7.3), (-4.5, -9.9), (-3.7, -9.6), (-2.7, -7.1), (-1.9, -9.8), (-0.6, -7.0), (0.3, -9.3),
    (1.1, -8.0), (-5.2, -9.8), (-3.0, -8.0), (-1.5, -7.2), (-6.8, -9.1), (-2.1, -8.8),
    (-7.0, -5.5), (-6.5, -6.4), (-6.0, -4.4), (-5.7, -5.7), (-5.4, -6.6), (-5.0, -5.2), (-4.7, -6.0), (-4.3, -6.8),
    (-4.0, -5.4), (-3.7, -6.2), (-3.4, -6.9), (-3.1, -4.9), (-2.8, -5.8), (-2.5, -6.6), (-2.2, -4.6), (-1.9, -5.4),
    (-1.6, -6.3), (-1.3, -4.2), (-1.0, -5.1), (-0.7, -6.0), (-0.4, -4.0), (-0.1, -4.8), (0.2, -5.7), (0.5, -4.4),
    (0.8, -6.2), (1.2, -5.0), (1.6, -5.3), (2.3, -5.3), (-3.9, -4.3), (-2.0, -6.9), (-0.9, -4.5), (-1.5, -5.8),
    (0.0, -6.5), (-2.6, -5.1), (-4.4, -5.9), (1.4, -4.2), (-5.9, -6.1), (-3.2, -5.6), (0.6, -5.1), (-0.5, -5.5),
    (-2.4, -2.0), (-2.7, -3.4), (-2.1, -3.0), (-1.8, -2.4), (-1.5, -3.8), (-1.2, -1.5), (-1.2, -2.9), (-0.9, -2.1),
    (-0.6, -3.3), (-0.3, -1.3), (-0.2, -2.6), (0.1, -1.9), (0.1, -3.6), (0.4, -1.1), (0.4, -2.8), (0.7, -2.1),
    (0.7, -3.2), (1.0, -1.5), (1.0, -2.6), (1.3, -1.9), (1.3, -3.4), (1.7, -1.3), (1.7, -2.8), (2.0, -2.2),
    (2.2, -3.3), (2.5, -1.6), (2.9, -2.3), (3.9, -3.1), (4.9, -2.6), (5.5, -1.7), (-1.4, -1.0), (-0.5, -1.8),
    (0.2, -2.3), (0.9, -1.0), (1.5, -2.4), (2.4, -1.1), (3.1, -1.6), (-3.6, -3.8), (-0.8, -3.9), (0.5, -3.9),
    (-1.0, -0.6), (-0.6, 0.6), (-0.3, -0.4), (0.0, 0.4), (0.3, -0.8), (0.6, 0.9), (0.9, -0.2), (1.2, 0.7),
    (1.5, -0.6), (1.8, 1.2), (2.1, 0.2), (2.4, 1.5), (2.7, 0.0), (3.0, 1.0), (3.3, 1.8), (3.6, 0.5), (3.9, 1.3),
    (4.2, 0.1), (4.5, 1.6), (4.8, 0.7), (5.1, 1.9), (5.4, 0.9), (5.7, 1.4), (6.0, 0.4), (6.3, -0.3), (6.6, 1.1),
    (7.0, 0.3), (7.4, 1.2), (8.0, 0.8), (8.5, 0.0), (8.7, -1.3), (9.0, 0.9), (0.7, 1.7), (1.6, 0.3), (2.2, 1.1),
    (2.9, -0.4), (3.5, 1.4), (4.0, 0.9), (4.6, 0.2), (5.2, 1.2), (1.0, 1.1), (2.6, 1.9), (6.1, 1.7), (-0.5, -1.0),
    (1.7, 2.6), (2.0, 3.5), (2.3, 2.2), (2.6, 3.1), (2.9, 3.8), (3.2, 2.4), (3.5, 3.3), (3.8, 2.1), (4.1, 3.0),
    (4.4, 3.8), (4.7, 2.5), (5.0, 3.4), (5.3, 2.2), (5.6, 3.1), (5.9, 3.9), (6.2, 2.6), (6.5, 3.4), (6.8, 2.3),
    (7.1, 3.2), (7.4, 2.8), (7.7, 3.6), (8.0, 2.5), (8.3, 3.3), (8.6, 2.9), (9.0, 2.3), (9.5, 3.5), (10.0, 3.3),
    (10.5, 2.6), (11.0, 2.4), (9.8, 2.0), (3.0, 3.0), (3.7, 2.7), (4.3, 2.2), (4.9, 2.9), (5.5, 3.7), (6.1, 3.1),
    (6.7, 2.9), (7.3, 3.8), (0.8, 2.1), (1.2, 2.8), (2.4, 2.9), (3.9, 3.5), (4.6, 3.2), (5.2, 2.7), (5.8, 2.4),
    (6.4, 3.7), (7.0, 2.7), (8.8, 3.7), (2.1, 2.5), (3.4, 3.8), (4.2, 3.5), (5.4, 3.6), (6.0, 2.9),
    (1.5, 4.1), (2.6, 4.6), (3.1, 5.1), (3.4, 4.3), (3.7, 5.5), (4.0, 4.7), (4.3, 5.3), (4.6, 4.2), (4.9, 5.0),
    (5.2, 4.5), (5.5, 5.6), (5.8, 4.3), (6.1, 5.2), (6.4, 4.7), (6.7, 5.8), (7.0, 4.4), (7.3, 5.1), (7.6, 4.6),
    (7.9, 5.4), (8.2, 4.2), (8.5, 4.8), (8.9, 4.3), (9.2, 5.3), (9.7, 4.4), (10.3, 4.2), (10.9, 3.9), (11.3, 4.6),
    (11.8, 5.8), (12.4, 4.9), (13.5, 4.9), (11.5, 5.6), (3.0, 5.5), (4.3, 6.0), (5.0, 6.0), (5.6, 6.1), (6.0, 6.4),
    (6.3, 6.0), (6.9, 6.7), (7.2, 6.2), (6.6, 6.3), (5.3, 5.9), (4.7, 5.8), (6.0, 4.8), (7.5, 5.9), (8.1, 5.5),
    (4.1, 4.2), (5.0, 4.1), (5.9, 4.0), (6.8, 4.2), (7.8, 4.0),
]
e_pts_dense = [
    (2.15, 1.85), (2.45, 2.45), (2.75, 1.65), (3.05, 2.35), (3.35, 2.85), (3.65, 1.95), (3.95, 2.55), (4.25, 3.15),
    (4.55, 2.25), (4.85, 3.65), (5.15, 2.95), (5.45, 4.25), (5.75, 3.35), (6.05, 4.45), (6.35, 2.95), (6.65, 3.85),
    (6.95, 4.65), (7.25, 3.45), (7.55, 4.25), (7.85, 3.15), (3.25, 3.45), (3.85, 4.05), (4.45, 4.55), (5.05, 4.85),
    (5.65, 4.65), (6.25, 5.45), (6.85, 5.15), (7.45, 5.35), (4.15, 3.75), (4.75, 4.05), (5.35, 3.15), (5.95, 3.55),
    (6.55, 4.15), (7.15, 4.95), (3.55, 2.35), (4.05, 1.75), (4.65, 1.25), (5.25, 1.65), (5.85, 2.15), (6.45, 2.35),
    (1.35, 0.85), (1.05, 0.15), (0.65, -0.55), (0.35, -1.45), (0.05, -1.05), (-0.25, -2.15), (-0.55, -2.85),
    (-0.85, -3.45), (-1.15, -4.35), (-1.45, -4.85), (-1.75, -6.15), (-2.05, -5.75), (-2.35, -6.45), (-2.65, -7.55),
    (-2.95, -6.95), (-3.35, -7.85), (-3.75, -8.75), (-4.15, -7.35), (-4.55, -8.25), (-1.25, -6.75), (-0.65, -5.25),
    (-0.05, -3.05), (0.55, -2.55), (1.15, -1.15), (1.85, 0.05), (2.55, 0.75), (3.15, 0.35), (-3.45, -10.65),
    (-2.55, -12.75), (-4.05, -12.85), (-2.15, -13.45), (-3.05, -9.35), (-1.85, -8.05), (-0.95, -9.85),
    (-4.65, -11.55), (-5.45, -8.35), (-1.05, -11.25), (-2.75, -9.75), (-5.05, -6.85), (0.85, -4.45),
]

# panel f: correlation by number of genes per group (Zviran et al.)
f_groups = ['1', '2', '3', '5', '10']
f_model = [0.638, 0.744, 0.794, 0.843, 0.884]
f_ndr = [0.328, 0.424, 0.498, 0.583, 0.710]

# panel g: lung cancer vs non-cancer
g_labels = ['Non\u2212cancer (n=40)', 'Lung cancer (n=46)']
g_q1 = [0.8720, 0.8668]
g_med = [0.8757, 0.8723]
g_q3 = [0.8806, 0.8761]
g_lo = [0.8612, 0.8615]
g_hi = [0.8863, 0.8861]
g_non_x = [-0.397, -0.353, -0.276, -0.201, -0.103, -0.125, -0.280, -0.331, -0.187, -0.187, -0.046, 0.003,
           0.186, 0.348, 0.359, 0.397, 0.137, 0.193, -0.195, -0.299, -0.118, -0.024, 0.073, 0.144, 0.076,
           0.316, 0.318, 0.363, -0.073, 0.080, 0.042, 0.056, 0.252, -0.280, -0.218, 0.372, -0.222, -0.286,
           0.001, 0.001, 0.261]
g_non_y = [0.8812, 0.8854, 0.8864, 0.8844, 0.8824, 0.8815, 0.8806, 0.8794, 0.8799, 0.8784, 0.8793, 0.8821,
           0.8850, 0.8806, 0.8792, 0.8775, 0.8774, 0.8770, 0.8757, 0.8754, 0.8749, 0.8742, 0.8743, 0.8751,
           0.8736, 0.8743, 0.8734, 0.8751, 0.8723, 0.8712, 0.8696, 0.8684, 0.8694, 0.8684, 0.8659, 0.8654,
           0.8611, 0.8554, 0.8564, 0.8554, 0.8564]
g_lung_x = [0.599, 0.774, 1.324, 1.296, 0.810, 0.898, 0.968, 0.977, 1.207, 1.268, 0.902, 0.813, 0.998,
            1.083, 1.198, 1.366, 1.339, 1.254, 1.279, 1.296, 0.761, 0.872, 0.898, 0.983, 1.132, 1.215, 1.241,
            0.636, 0.800, 1.062, 1.083, 0.957, 1.083, 0.749, 0.761, 0.819, 0.817, 0.755, 0.800, 0.800, 1.160,
            0.998, 0.998, 1.181, 1.286, 0.742, 0.998]
g_lung_y = [0.8841, 0.8852, 0.8862, 0.8850, 0.8810, 0.8817, 0.8805, 0.8796, 0.8818, 0.8787, 0.8781, 0.8760,
            0.8760, 0.8750, 0.8759, 0.8745, 0.8739, 0.8734, 0.8728, 0.8721, 0.8733, 0.8730, 0.8734, 0.8717,
            0.8708, 0.8710, 0.8706, 0.8687, 0.8681, 0.8686, 0.8687, 0.8669, 0.8668, 0.8665, 0.8659, 0.8659,
            0.8650, 0.8647, 0.8637, 0.8615, 0.8622, 0.8524, 0.8514, 0.8524, 0.8514, 0.8474, 0.8474]

# panel h: correlation vs ichorCNA tumour fraction
h_x = [-2.518, -2.518, -2.392, -2.295, -2.094, -2.094, -2.042, -2.217, -2.392, -2.392, -2.295, -2.217,
       -1.958, -1.770, -1.566, -1.523, -1.506, -1.584, -0.885, -0.129]
h_y = [0.8730, 0.8720, 0.8739, 0.8745, 0.8728, 0.8723, 0.8733, 0.8704, 0.8663, 0.8646, 0.8667, 0.8666,
       0.8635, 0.8710, 0.8805, 0.8686, 0.8681, 0.8649, 0.8523, 0.8473]

# ---------------- layout helpers (pixel based) ----------------
W, H = 2100, 1177
ORANGE = '#FFA500'
GREY = '#4D4D4D'

fig = plt.figure(figsize=(W / 100, H / 100), dpi=100)


def px_ax(l, t, r, b):
    return fig.add_axes([l / W, 1 - b / H, (r - l) / W, (b - t) / H])


def lims(p0, v0, p1, v1, e0, e1):
    k = (v1 - v0) / (p1 - p0)
    return v0 + (e0 - p0) * k, v0 + (e1 - p0) * k


def ftext(x, y, s, **kw):
    fig.text(x / W, 1 - y / H, s, **kw)


def frect(l, t, r, b, **kw):
    fig.add_artist(Rectangle((l / W, 1 - b / H), (r - l) / W, (b - t) / H,
                             transform=fig.transFigure, **kw))


def ticks(ax, xs, ys, pad=1.5):
    ax.tick_params(direction='out', length=2.3, width=0.8, color='#333333',
                   labelcolor=GREY, pad=pad)
    ax.tick_params(axis='x', labelsize=xs)
    ax.tick_params(axis='y', labelsize=ys)


def open_axes(ax, xb, yb, xt, yt, xs, ys, pad=1.5):
    for s in ('top', 'right'):
        ax.spines[s].set_visible(False)
    ax.spines['left'].set_bounds(*yb)
    ax.spines['bottom'].set_bounds(*xb)
    for s in ('left', 'bottom'):
        ax.spines[s].set_linewidth(0.8)
        ax.spines[s].set_color('#333333')
    ax.set_xticks(xt)
    ax.set_yticks(yt)
    ticks(ax, xs, ys, pad)
    ax.patch.set_alpha(0)


def frame_axes(ax, xs, ys):
    for s in ax.spines.values():
        s.set_color('#7F7F7F')
        s.set_linewidth(1.1)
    ticks(ax, xs, ys)


def draw_cloud(ax, pts, dense, sx, sy):
    p = np.array(pts + dense)
    ax.scatter(p[:, 0], p[:, 1], s=15, c=ORANGE, linewidths=0)
    ax.scatter(np.full(len(sy), sx), sy, s=15, c=ORANGE, linewidths=0)


def header(l, t, r, b, base, s):
    frect(l, t, r, b, fill=False, edgecolor='black', linewidth=1.1)
    ftext((l + r) / 2, base, s, ha='center', va='baseline', fontsize=15, color='#1A1A1A')


def letter(x, y, s):
    ftext(x, y, s, ha='left', va='baseline', fontsize=24, fontweight='bold', color='#1A1A1A')


# ---------------- headers ----------------
header(123, 6, 840, 43, 31, 'Initial model validation in WGS data, n=27 healthy adults (from this study)')
header(1301, 2, 1886, 28, 21, 'Initial model validation in two deep WGS profiles')
header(110, 606, 876, 641, 630, 'Secondary model validation in WGS data, n=40 healthy adults (from Zviran et al.)')
header(1144, 609, 2055, 644, 633,
       'Secondary model validation, Lung Cancer vs Non-Cancer WGS data, n=80 (From Zviran et al.)')

for lx, ly, ls in [(8, 80, 'a'), (512, 82, 'b'), (1080, 75, 'c'), (1533, 87, 'd'),
                   (3, 658, 'e'), (510, 675, 'f'), (1062, 672, 'g'), (1572, 675, 'h')]:
    letter(lx, ly, ls)

# ---------------- panel a ----------------
ax = px_ax(52, 80, 480, 498)
draw_cloud(ax, a_pts, a_pts_dense, a_strip_x, a_strip_y)
ax.set_xlim(*lims(72, -10, 467, 15, 52, 480))
ax.set_ylim(*lims(91, 8, 478, -8, 498, 80))
open_axes(ax, (-10, 15), (-8, 8), [-10, -5, 0, 5, 10, 15], [-8, -6, -4, -2, 0, 2, 4, 6, 8], 15, 15)
ftext(72, 108, '$r$ = 0.9', fontsize=16.5, va='baseline')
ftext(72, 139, '$P$ < 2.22E\u221216', fontsize=16.5, va='baseline')
ftext(9, 283, 'Predicted gene expression', rotation=90, ha='center', va='center', fontsize=15)
ftext(293, 550, 'Gene expression level in PBMC [log2]', ha='center', va='center', fontsize=14)

# ---------------- panel b ----------------
ax = px_ax(611.7, 84.3, 1012.7, 507.3)
idx = np.arange(len(b_groups))
ax.bar(idx - 0.3, b_model, 0.2, color='#FF8C00', edgecolor='#FFE9CC', linewidth=0.5)
ax.bar(idx, b_pfe, 0.2, color='#A2CD5A', edgecolor='#EEF6E0', linewidth=0.5)
ax.bar(idx + 0.3, b_ndr, 0.2, color='#1C86EE', edgecolor='#D6E9FB', linewidth=0.5)
ax.set_xlim((611.7 - 656.7) / 77.5, (1012.7 - 656.7) / 77.5)
ax.set_ylim(*lims(104.3, 1.0, 489, 0.3, 507.3, 84.3))
ax.set_xticks(idx)
ax.set_xticklabels(b_groups)
ax.set_yticks([0.3, 0.4, 0.5, 0.6, 0.7, 0.8, 0.9, 1.0])
ax.set_yticklabels(['0.3', '0.4', '0.5', '0.6', '0.7', '0.8', '0.9', '1.0'])
frame_axes(ax, 15, 16)
for ty, lab, col in [(111.7, 'NDR', '#1C86EE'), (141, 'PFE', '#A2CD5A'), (166, 'Model', '#FF8C00')]:
    ftext(626.7, ty, lab, va='center', fontsize=15.5)
    frect(692.7, ty - 9.5, 705.7, ty + 9.5, facecolor=col, edgecolor='none')
ftext(562, 313, 'Correlation with expression (r)', rotation=90, ha='center', va='center', fontsize=15)
ftext(811.7, 551.7, 'Number of genes in each group', ha='center', va='center', fontsize=16)

# ---------------- panel c ----------------
ax = px_ax(1156.7, 85, 1545, 481)
draw_cloud(ax, c_pts, c_pts_dense, c_strip_x, c_strip_y)
ax.set_xlim(*lims(1174.3, -10, 1534, 20, 1156.7, 1545))
ax.set_ylim(*lims(97.7, 10, 462.7, -10, 481, 85))
open_axes(ax, (-10, 20), (-10, 10), [-10, -5, 0, 5, 10, 15, 20], [-10, -5, 0, 5, 10], 12, 14, pad=0.8)
ftext(1175, 109, '$r$ = 0.86', fontsize=16.5, va='baseline')
ftext(1175, 132, '$P$ <= 2E\u221216', fontsize=16.5, va='baseline')
ftext(1105, 280, 'Predicted gene expression', rotation=90, ha='center', va='center', fontsize=14)
ftext(1354, 512, 'Gene expression level in matched PBMC [log2]', ha='center', va='center', fontsize=12.3)

# ---------------- panel d ----------------
ax = px_ax(1686, 75, 2095, 471)
draw_cloud(ax, d_pts, d_pts_dense, d_strip_x, d_strip_y)
ax.set_xlim(*lims(1705, -10, 2090, 15, 1686, 2095))
ax.set_ylim(*lims(87.3, 10, 452.3, -10, 471, 75))
open_axes(ax, (-10, 15), (-10, 10), [-10, -5, 0, 5, 10, 15], [-10, -5, 0, 5, 10], 12, 14, pad=0.8)
ftext(1706.7, 97, '$r$ = 0.91', fontsize=16.5, va='baseline')
ftext(1706.7, 121, '$P$ < 2E\u221216', fontsize=16.5, va='baseline')
ftext(1630, 270, 'Predicted gene expression', rotation=90, ha='center', va='center', fontsize=14)
ftext(1897.7, 502, 'Gene expression level in matched PBMC [log2]', ha='center', va='center', fontsize=12.8)

# ---------------- panel e ----------------
ax = px_ax(74, 675, 485, 1065)
draw_cloud(ax, e_pts, e_pts_dense, e_strip_x, e_strip_y)
ax.set_xlim(*lims(92.7, -10, 478.3, 15, 74, 485))
ax.set_ylim(*lims(686, 10, 1046.7, -15, 1065, 675))
open_axes(ax, (-10, 15), (-15, 10), [-10, -5, 0, 5, 10, 15], [-15, -10, -5, 0, 5, 10], 14.5, 14)
ftext(92.7, 702, '$r$ = 0.885', fontsize=16.5, va='baseline')
ftext(92.7, 730, '$P$ < 2.22E\u221216', fontsize=16.5, va='baseline')
ftext(18.5, 866.7, 'Predicted gene expression', rotation=90, ha='center', va='center', fontsize=14)
ftext(297.5, 1106, 'Gene expression level in PBMC [log2]', ha='center', va='center', fontsize=15.5)

# ---------------- panel f ----------------
ax = px_ax(595.7, 685, 996.7, 1067.7)
idx = np.arange(len(f_groups))
ax.bar(idx - 0.225, f_model, 0.3, color='#A2CD5A', edgecolor='#EEF6E0', linewidth=0.5)
ax.bar(idx + 0.225, f_ndr, 0.3, color='#1C86EE', edgecolor='#D6E9FB', linewidth=0.5)
ax.set_xlim((595.7 - 641.7) / 77.25, (996.7 - 641.7) / 77.25)
ax.set_ylim(*lims(701.7, 1.0, 1051, 0.2, 1067.7, 685))
ax.set_xticks(idx)
ax.set_xticklabels(f_groups)
ax.set_yticks([0.2, 0.3, 0.4, 0.5, 0.6, 0.7, 0.8, 0.9, 1.0])
ax.set_yticklabels(['0.2', '0.3', '0.4', '0.5', '0.6', '0.7', '0.8', '0.9', '1.0'])
frame_axes(ax, 14, 14)
frect(611.7, 694, 624, 710, facecolor='#A2CD5A', edgecolor='none')
ftext(630, 702, 'Model', va='center', fontsize=15.5)
frect(702, 694, 714.7, 710, facecolor='#1C86EE', edgecolor='none')
ftext(719, 702, 'NDR', va='center', fontsize=15.5)
ftext(546.5, 880, 'Correlation with expression (r)', rotation=90, ha='center', va='center', fontsize=14)
ftext(795, 1100, 'Number of genes in each group', ha='center', va='center', fontsize=16)

# ---------------- panel g ----------------
ax = px_ax(1130.7, 680, 1520.3, 1077.3)
stats = [dict(q1=g_q1[i], med=g_med[i], q3=g_q3[i], whislo=g_lo[i], whishi=g_hi[i], fliers=[])
         for i in range(2)]
edge = ['#1A1AF5', '#FFA500']
fill = ['#6E6EFF', '#FFCF73']
bp = ax.bxp(stats, positions=[0, 1], widths=0.752, patch_artist=True, showcaps=False, showfliers=False)
for i in range(2):
    bp['boxes'][i].set(facecolor=fill[i], edgecolor=edge[i], linewidth=1.6)
    bp['medians'][i].set(color=edge[i], linewidth=1.8)
    for w in bp['whiskers'][2 * i:2 * i + 2]:
        w.set(color=edge[i], linewidth=1.3)
ax.scatter(g_non_x, g_non_y, s=10, c='#4444FF', alpha=0.75, linewidths=0, zorder=3)
ax.scatter(g_lung_x, g_lung_y, s=10, c='#FFB733', alpha=0.75, linewidths=0, zorder=3)
ax.set_xlim((1130.7 - 1270.5) / 156.5, (1520.3 - 1270.5) / 156.5)
ax.set_ylim(*lims(697.7, 0.90, 1061, 0.84, 1077.3, 680))
ax.set_xticks([0, 1])
ax.set_xticklabels(['', ''])
ax.set_yticks([0.84, 0.86, 0.88, 0.90])
ax.set_yticklabels(['0.84', '0.86', '0.88', '0.90'])
frame_axes(ax, 14, 14)
ftext(1257, 1096.7, g_labels[0], ha='center', va='center', fontsize=14.2, color=GREY)
ftext(1440, 1096.7, g_labels[1], ha='center', va='center', fontsize=14.2, color=GREY)
ftext(1138.3, 714, '$P$ = 0.018', fontsize=16.5, va='baseline')
ftext(1066.5, 861.7, 'Correlation with expression ($r$)', rotation=90, ha='center', va='center', fontsize=14)

# ---------------- panel h ----------------
ax = px_ax(1676, 680, 2080, 1079)
hx = np.array(h_x)
hy = np.array(h_y)
slope, icpt = np.polyfit(hx, hy, 1)
xs = np.linspace(hx.min(), hx.max(), 100)
fit = icpt + slope * xs
n = len(hx)
resid = hy - (icpt + slope * hx)
s_err = np.sqrt(np.sum(resid ** 2) / (n - 2))
se = s_err * np.sqrt(1 / n + (xs - hx.mean()) ** 2 / np.sum((hx - hx.mean()) ** 2))
t_crit = 2.101  # t(0.975, df=18)
ax.fill_between(xs, fit - t_crit * se, fit + t_crit * se, color='#D3D3D3', linewidth=0, zorder=1)
ax.plot(xs, fit, color='#3366FF', linewidth=2.2, zorder=2)
ax.scatter(hx, hy, s=16, c='black', linewidths=0, zorder=3)
ax.set_xlim(*lims(1696.7, -2.5, 2005, -0.5, 1676, 2080))
ax.set_ylim(*lims(698.3, 0.90, 1061, 0.84, 1079, 680))
ax.set_xticks([-2.5, -2.0, -1.5, -1.0, -0.5])
ax.set_xticklabels(['\u22122.5', '\u22122.0', '\u22121.5', '\u22121.0', '\u22120.5'])
ax.set_yticks([0.84, 0.86, 0.88, 0.90])
ax.set_yticklabels(['0.84', '0.86', '0.88', '0.90'])
frame_axes(ax, 14, 14)
ftext(1696.7, 705, '$r$ = \u22120.69', fontsize=13, va='baseline')
ftext(1696.7, 731, '$P$ = 0.00052', fontsize=13, va='baseline')
ftext(1618.5, 860, 'Correlation with expression ($r$)', rotation=90, ha='center', va='center', fontsize=14)
ftext(1878.3, 1110.7, 'ichorCNA tumor fraction [log10]', ha='center', va='center', fontsize=15)

fig.savefig('out.png', dpi=100)
